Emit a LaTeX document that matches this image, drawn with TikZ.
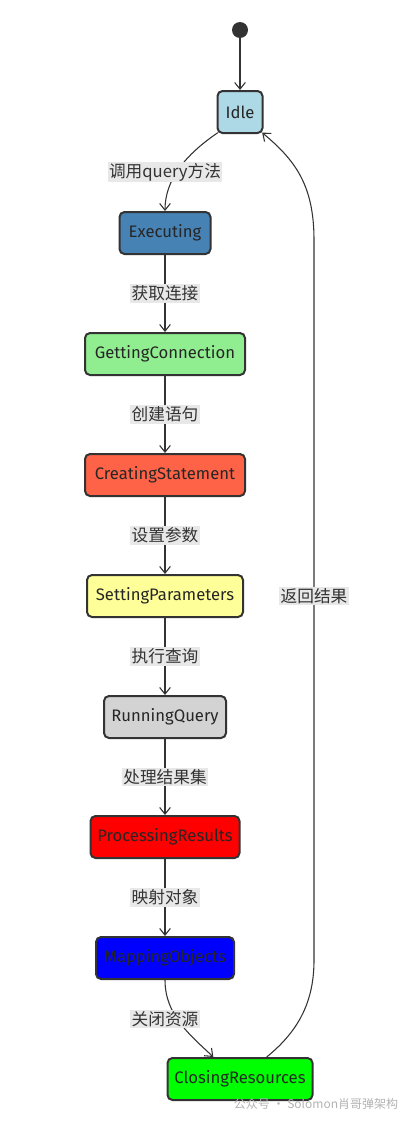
\documentclass[tikz,border=0pt]{standalone}
\usepackage{fontspec}
\setmainfont{Fira Sans}
\newfontfamily\cjk{Noto Sans CJK SC}
\usetikzlibrary{arrows.meta}
\definecolor{edgegray}{HTML}{333333}
\definecolor{lblbg}{HTML}{E8E8E8}
\definecolor{idlec}{HTML}{ADD8E6}
\definecolor{execc}{HTML}{4682B4}
\definecolor{connc}{HTML}{90EE90}
\definecolor{stmtc}{HTML}{FF6347}
\definecolor{paramc}{HTML}{FFFF99}
\definecolor{queryc}{HTML}{D3D3D3}
\definecolor{procc}{HTML}{FF0000}
\definecolor{mapc}{HTML}{0000FF}
\definecolor{closec}{HTML}{00FF00}

\begin{document}
\begin{tikzpicture}[x=0.75pt,y=-0.75pt,
		state/.style={draw=edgegray,line width=1.5pt,rounded corners=3.75pt,minimum height=31.5pt,inner sep=0pt,font=\fontsize{12.5}{14}\selectfont,text=black!85},
		lbl/.style={fill=lblbg,inner sep=1pt,font=\cjk\fontsize{12.5}{14}\selectfont,text=black!80},
		edge/.style={draw=edgegray,line width=0.8pt,-{Straight Barb[length=5pt,width=8pt]}}]
		\useasboundingbox (0,0) rectangle (418,1121);
		\node[circle,fill=edgegray,inner sep=0pt,minimum size=12pt] (start) at (240,30) {};
		\node[state,fill=idlec,minimum width=33.75pt] (Idle) at (240,112) {Idle};
		\node[state,fill=execc,minimum width=68.25pt] (Exec) at (165,233) {Executing};
		\node[state,fill=connc,minimum width=120pt] (Conn) at (165,354) {GettingConnection};
		\node[state,fill=stmtc,minimum width=120pt] (Stmt) at (165,475) {CreatingStatement};
		\node[state,fill=paramc,minimum width=117pt] (Param) at (165,596) {SettingParameters};
		\node[state,fill=queryc,minimum width=91.5pt] (Query) at (165,717) {RunningQuery};
		\node[state,fill=procc,minimum width=111.75pt] (Proc) at (165,837) {ProcessingResults};
		\node[state,fill=mapc,minimum width=103.5pt] (Map) at (165,958) {MappingObjects};
		\node[state,fill=closec,minimum width=108.75pt] (Close) at (240,1079) {ClosingResources};
		% transitions
		\draw[edge] (start) -- (Idle);
		\draw[edge] ([xshift=1pt,yshift=1pt]Idle.south west) .. controls (185,155) and (165,180) .. (Exec.north)
			node[lbl,at={(165,172)}] {调用query方法};
		\draw[edge] (Exec) -- node[lbl] {获取连接} (Conn);
		\draw[edge] (Conn) -- node[lbl] {创建语句} (Stmt);
		\draw[edge] (Stmt) -- node[lbl] {设置参数} (Param);
		\draw[edge] (Param) -- node[lbl] {执行查询} (Query);
		\draw[edge] (Query) -- node[lbl] {处理结果集} (Proc);
		\draw[edge] (Proc) -- node[lbl] {映射对象} (Map);
		\draw[edge] (Map) .. controls (165,1015) and (190,1035) .. ([xshift=-20pt]Close.north)
			node[lbl,at={(165,1019)}] {关闭资源};
		\draw[edge] ([xshift=20pt]Close.north) .. controls (300,1030) and (314,1000) .. (314,960)
			-- node[lbl,pos=0.506] {返回结果} (314,240) .. controls (314,185) and (295,160) .. ([xshift=-1pt,yshift=1pt]Idle.south east);
		\node[text=black!30,font=\cjk\fontsize{9}{10}\selectfont] (mark) at (316,1104) {公众号 · Solomon肖哥弹架构};
	\end{tikzpicture}
\end{document}
